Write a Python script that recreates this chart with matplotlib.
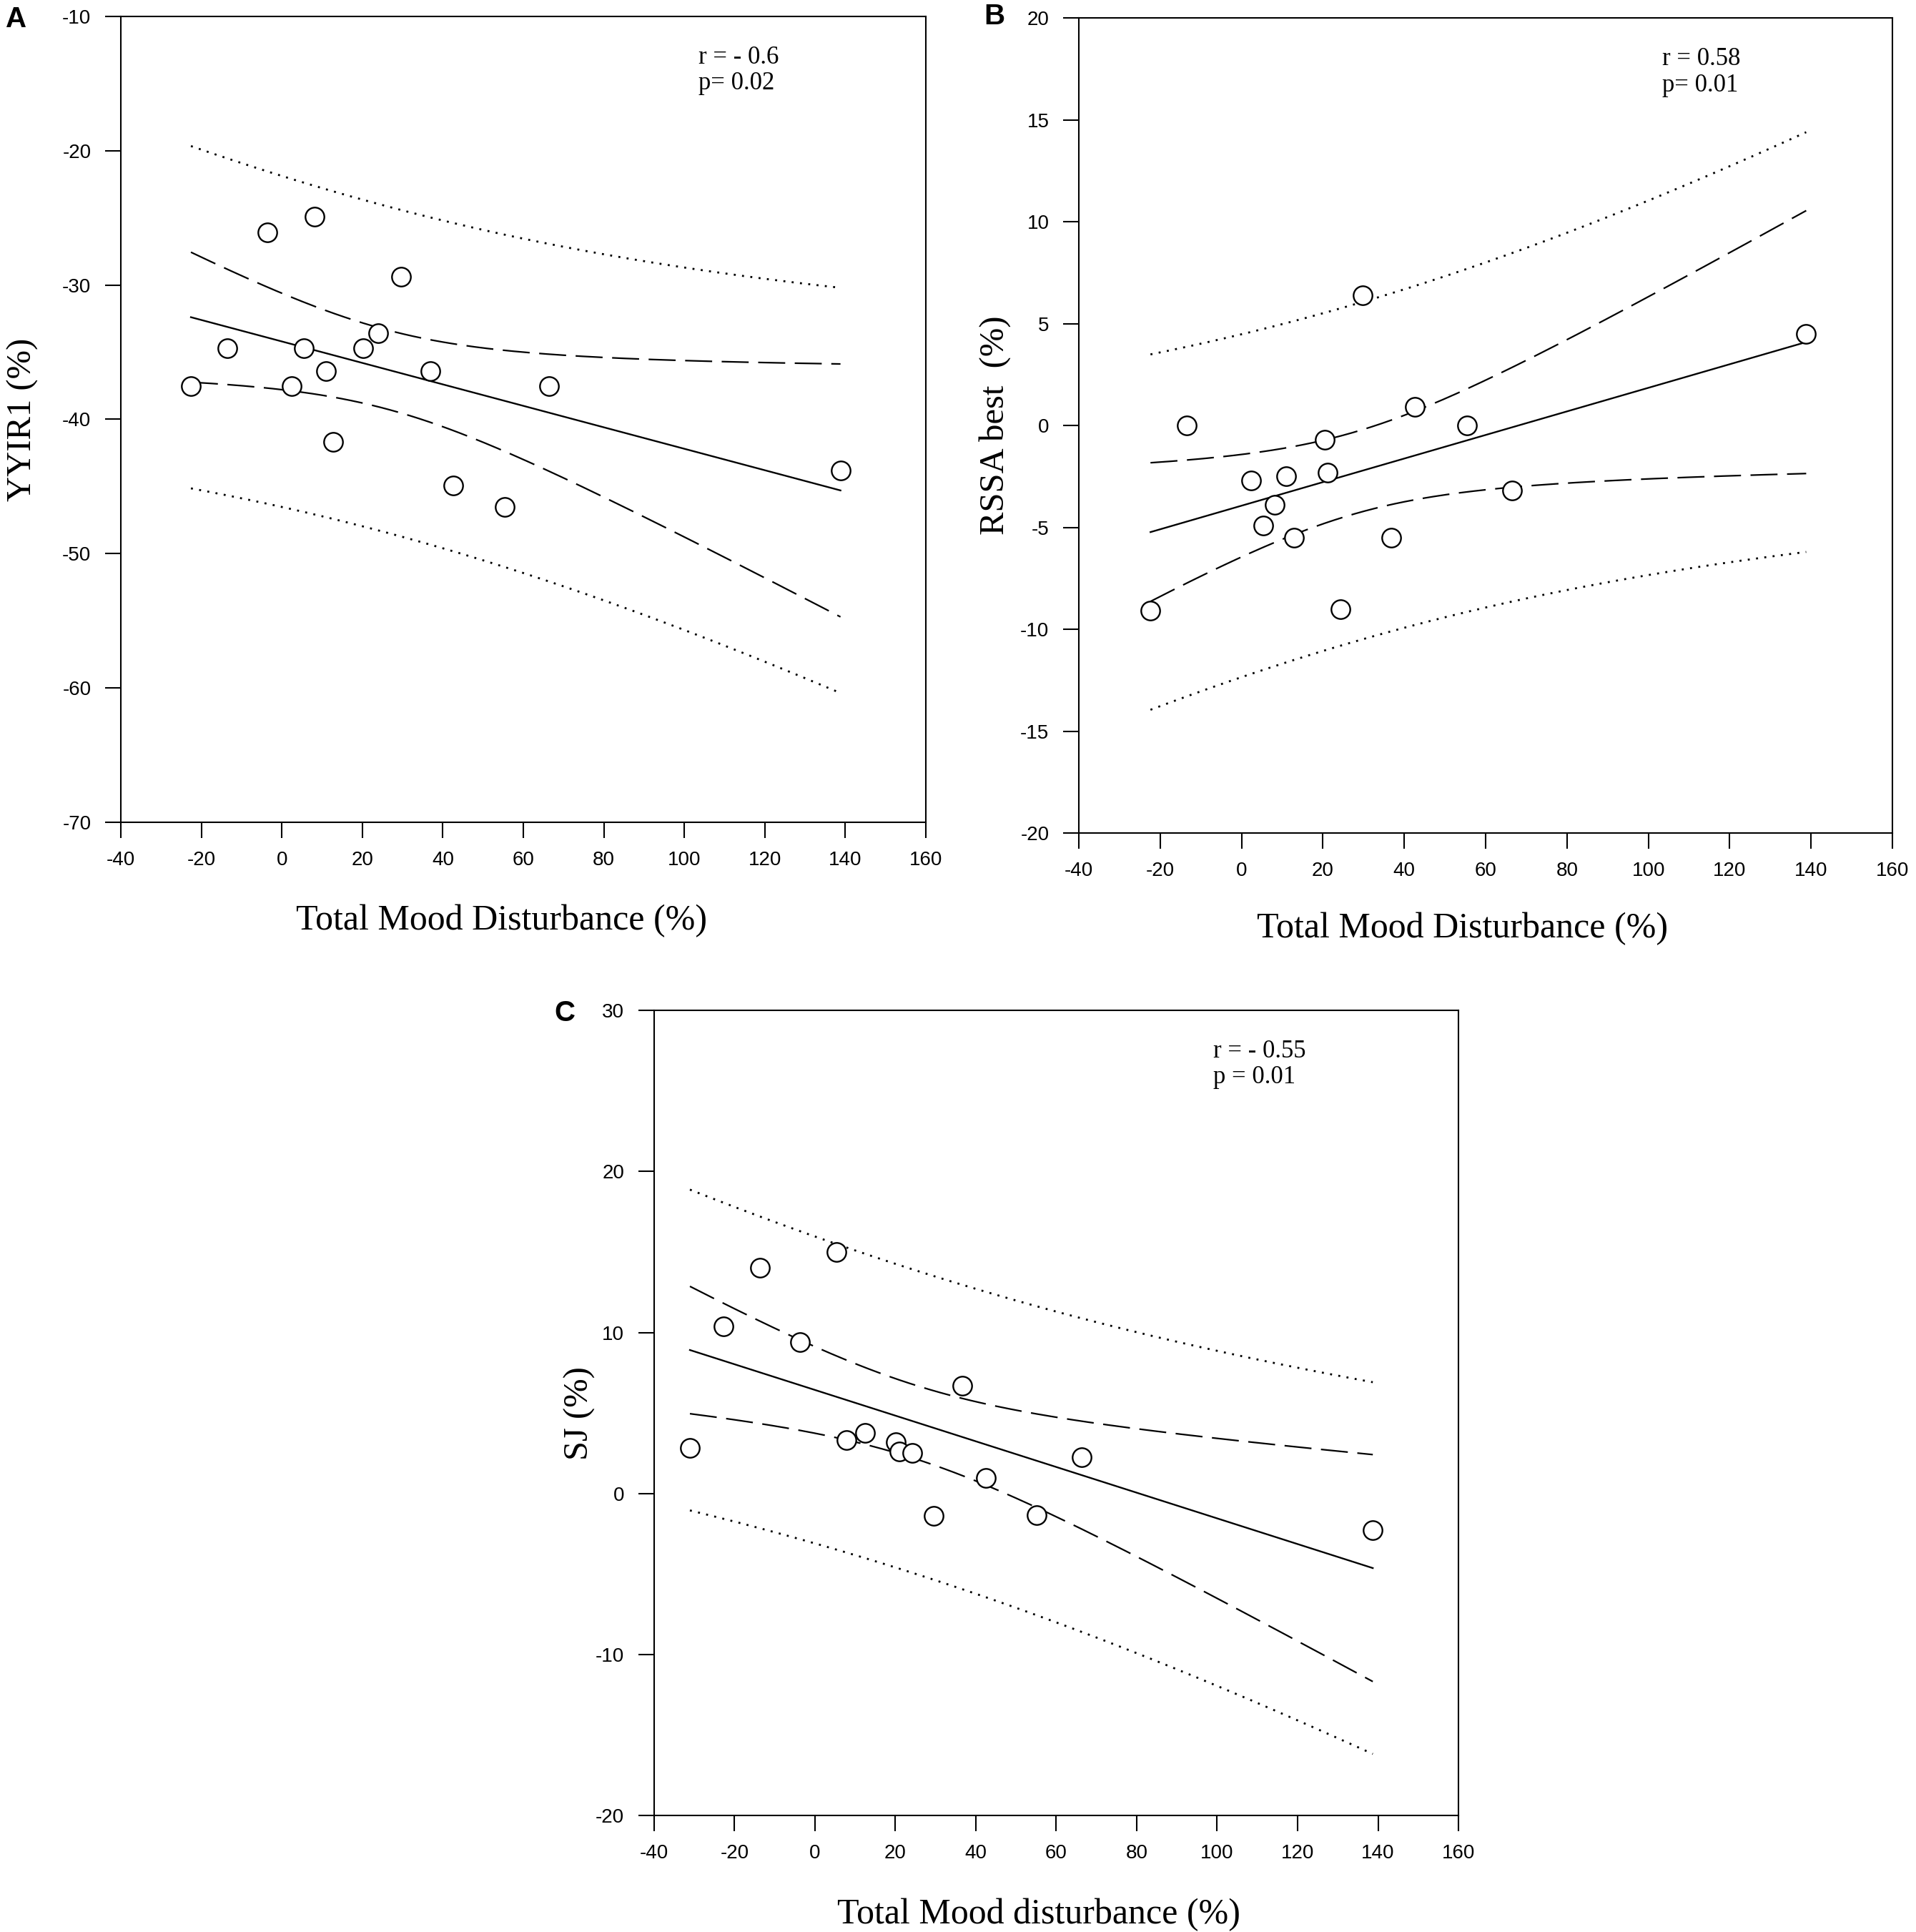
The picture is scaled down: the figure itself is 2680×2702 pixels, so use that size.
import numpy as np
import matplotlib
matplotlib.use('Agg')
import matplotlib.pyplot as plt

plt.rcParams['axes.unicode_minus'] = False

# ---- data ----
# panel A: Total Mood Disturbance (%) vs YYIR1 (%)
tmd_a = [-22.6, -13.5, -3.6, 2.5, 5.5, 8.1, 10.9, 12.8, 20.2, 24.0, 29.6, 36.9, 42.6, 55.4, 66.4, 138.8]
yyir1 = [-37.5, -34.7, -26.1, -37.5, -34.7, -24.9, -36.4, -41.7, -34.7, -33.6, -29.4, -36.4, -44.9, -46.5, -37.5, -43.8]

# panel B: Total Mood Disturbance (%) vs RSSA best (%)
tmd_b = [-22.4, -13.4, 2.4, 5.4, 8.2, 11.0, 12.8, 20.5, 21.2, 24.3, 29.8, 36.7, 42.6, 55.4, 66.5, 138.8]
rssa = [-9.1, 0.0, -2.7, -4.9, -3.9, -2.5, -5.5, -0.7, -2.3, -9.0, 6.4, -5.5, 0.9, 0.0, -3.2, 4.5]

# panel C: Total Mood disturbance (%) vs SJ (%)
tmd_c = [-31.1, -22.7, -13.6, -3.8, 5.3, 7.9, 12.5, 20.1, 20.9, 24.2, 29.6, 36.6, 42.5, 55.1, 66.4, 138.7]
sj = [2.85, 10.4, 14.0, 9.4, 15.0, 3.3, 3.75, 3.2, 2.6, 2.5, -1.4, 6.7, 0.97, -1.35, 2.25, -2.3]

stats_a = 'r = - 0.6\np= 0.02'
stats_b = 'r = 0.58\np= 0.01'
stats_c = 'r = - 0.55\np = 0.01'

x_ticks = [-40, -20, 0, 20, 40, 60, 80, 100, 120, 140, 160]

SANS = 'Liberation Sans'
SERIF = 'Liberation Serif'
T_CRIT = 2.145  # t(0.975, df=14)


def draw_panel(ax, x, y, ylim, yticks, ylabel, xlabel, note,
               note_x, ylab_x, xlab_xy):
    x = np.array(x, dtype=float)
    y = np.array(y, dtype=float)
    n = len(x)

    # linear regression with 95% confidence and prediction bands
    slope, icpt = np.polyfit(x, y, 1)
    resid = y - (slope * x + icpt)
    s = np.sqrt(np.sum(resid ** 2) / (n - 2))
    xs = np.linspace(x.min(), x.max(), 200)
    fit = slope * xs + icpt
    sxx = np.sum((x - x.mean()) ** 2)
    ci = T_CRIT * s * np.sqrt(1.0 / n + (xs - x.mean()) ** 2 / sxx)
    pi = T_CRIT * s * np.sqrt(1 + 1.0 / n + (xs - x.mean()) ** 2 / sxx)

    ax.plot(xs, fit, color='black', lw=1.7)
    ax.plot(xs, fit + ci, color='black', lw=1.6, linestyle=(0, (17, 6)))
    ax.plot(xs, fit - ci, color='black', lw=1.6, linestyle=(0, (17, 6)))
    ax.plot(xs, fit + pi, color='black', lw=2.0, linestyle=(0, (1, 3.2)))
    ax.plot(xs, fit - pi, color='black', lw=2.0, linestyle=(0, (1, 3.2)))

    ax.plot(x, y, 'o', ms=19, mfc='white', mec='black', mew=1.7, zorder=5)

    ax.set_xlim(-40, 160)
    ax.set_ylim(*ylim)
    ax.set_xticks(x_ticks)
    ax.set_yticks(yticks)
    ax.tick_params(direction='out', length=16, width=1.5, labelsize=20)
    ax.tick_params(axis='x', pad=13)
    ax.tick_params(axis='y', pad=14)
    for lab in ax.get_xticklabels() + ax.get_yticklabels():
        lab.set_fontfamily(SANS)
    for sp in ax.spines.values():
        sp.set_linewidth(1.5)

    ax.set_xlabel(xlabel, fontfamily=SERIF, fontsize=36)
    ax.xaxis.set_label_coords(*xlab_xy)
    ax.set_ylabel(ylabel, fontfamily=SERIF, fontsize=35)
    ax.yaxis.set_label_coords(ylab_x, 0.5)

    ax.text(note_x, 0.964, note, transform=ax.transAxes, ha='left', va='top',
            fontfamily=SERIF, fontsize=25, linespacing=1.15)


fig = plt.figure(figsize=(26.8, 27.02), dpi=100)

ax_a = fig.add_axes([0.0631, 0.5744, 0.4201, 0.4171])
ax_b = fig.add_axes([0.5631, 0.5688, 0.4246, 0.4219])
ax_c = fig.add_axes([0.3414, 0.0603, 0.4198, 0.4167])

draw_panel(ax_a, tmd_a, yyir1, (-70, -10), [-70, -60, -50, -40, -30, -20, -10],
           'YYIR1 (%)', 'Total Mood Disturbance (%)', stats_a,
           0.718, -0.102, (0.473, -0.102))
draw_panel(ax_b, tmd_b, rssa, (-20, 20), [-20, -15, -10, -5, 0, 5, 10, 15, 20],
           'RSSA best  (%)', 'Total Mood Disturbance (%)', stats_b,
           0.717, -0.084, (0.471, -0.097))
draw_panel(ax_c, tmd_c, sj, (-20, 30), [-20, -10, 0, 10, 20, 30],
           'SJ (%)', 'Total Mood disturbance (%)', stats_c,
           0.695, -0.073, (0.478, -0.103))

# panel letters
for letter, lx, ly in [('A', 0.003, 0.990), ('B', 0.5134, 0.9915), ('C', 0.2892, 0.4756)]:
    fig.text(lx, ly, letter, ha='left', va='center', fontfamily=SANS,
             fontsize=29, fontweight='bold')

fig.savefig('out.png', dpi=100)
